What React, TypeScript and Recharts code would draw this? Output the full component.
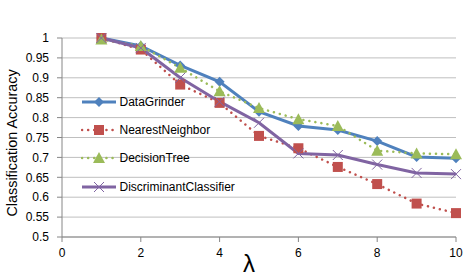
import React from "react";
import { CartesianGrid, Label, Line, LineChart, XAxis, YAxis } from "recharts";

const lambdas = [1, 2, 3, 4, 5, 6, 7, 8, 9, 10];
const dataGrinder = [1.0, 0.98, 0.931, 0.89, 0.815, 0.779, 0.769, 0.741, 0.701, 0.698];
const nearestNeighbor = [1.0, 0.971, 0.883, 0.837, 0.754, 0.723, 0.676, 0.633, 0.584, 0.56];
const decisionTree = [0.996, 0.98, 0.925, 0.866, 0.824, 0.796, 0.779, 0.717, 0.71, 0.708];
const discriminant = [1.0, 0.975, 0.9, 0.84, 0.787, 0.71, 0.706, 0.682, 0.661, 0.658];

const xTicks = [0, 2, 4, 6, 8, 10];
const yTicks = [0.5, 0.55, 0.6, 0.65, 0.7, 0.75, 0.8, 0.85, 0.9, 0.95, 1];

const BLUE = "#4F81BD";
const RED = "#C0504D";
const GREEN = "#9BBB59";
const PURPLE = "#8064A2";
const FONT = "'Liberation Sans', Arial, sans-serif";

const rows = lambdas.map((l, i) => ({
  lambda: l,
  dg: dataGrinder[i],
  nn: nearestNeighbor[i],
  dt: decisionTree[i],
  dc: discriminant[i],
}));

type MarkerKind = "diamond" | "square" | "triangle" | "cross";

function marker(kind: MarkerKind, cx: number, cy: number, color: string, key?: string) {
  if (kind === "diamond") {
    return <path key={key} d={`M${cx},${cy - 5}L${cx + 5},${cy}L${cx},${cy + 5}L${cx - 5},${cy}Z`} fill={color} />;
  }
  if (kind === "square") {
    return <rect key={key} x={cx - 5} y={cy - 5} width={10} height={10} fill={color} />;
  }
  if (kind === "triangle") {
    return <path key={key} d={`M${cx},${cy - 6}L${cx + 6},${cy + 5}L${cx - 6},${cy + 5}Z`} fill={color} />;
  }
  return (
    <path
      key={key}
      d={`M${cx - 5},${cy - 5}L${cx + 5},${cy + 5}M${cx - 5},${cy + 5}L${cx + 5},${cy - 5}`}
      stroke={color}
      strokeWidth={1}
      fill="none"
    />
  );
}

const dotFor = (kind: MarkerKind, color: string) => (props: any) =>
  marker(kind, props.cx, props.cy, color, `${kind}-${props.index}`);

const series = [
  { key: "dg", name: "DataGrinder", color: BLUE, kind: "diamond" as MarkerKind, dash: undefined },
  { key: "nn", name: "NearestNeighbor", color: RED, kind: "square" as MarkerKind, dash: "0.1 6" },
  { key: "dt", name: "DecisionTree", color: GREEN, kind: "triangle" as MarkerKind, dash: "0.1 6" },
  { key: "dc", name: "DiscriminantClassifier", color: PURPLE, kind: "cross" as MarkerKind, dash: undefined },
];

function LegendBox() {
  return (
    <div style={{ position: "absolute", left: 81, top: 87.5, fontFamily: FONT, fontSize: 12, color: "#000" }}>
      {series.map((s) => (
        <div key={s.key} style={{ display: "flex", alignItems: "center", height: 28.4 }}>
          <svg width={37} height={14}>
            <line
              x1={1}
              x2={35}
              y1={7}
              y2={7}
              stroke={s.color}
              strokeWidth={s.dash ? 2.5 : 3}
              strokeDasharray={s.dash}
              strokeLinecap={s.dash ? "round" : "butt"}
            />
            {marker(s.kind, 18, 7, s.color)}
          </svg>
          <span style={{ marginLeft: 1.5 }}>{s.name}</span>
        </div>
      ))}
    </div>
  );
}

const YTitle = () => (
  <text
    x={12}
    y={143}
    transform="rotate(-90 12 143)"
    textAnchor="middle"
    dominantBaseline="central"
    fill="#000"
    fontSize={14.4}
    fontFamily={FONT}
  >
    Classification Accuracy
  </text>
);

const XTitle = () => (
  <text x={249} y={272} textAnchor="middle" fill="#000" fontSize={24} fontFamily={FONT}>
    λ
  </text>
);

export default function App() {
  return (
    <div style={{ position: "absolute", left: 0, top: 0, width: 468, height: 278, background: "#fff" }}>
      <LineChart width={468} height={278} data={rows} margin={{ top: 38, right: 12, left: 0, bottom: 0 }}>
        <CartesianGrid vertical={false} stroke="#BFBFBF" strokeWidth={1} />
        <XAxis
          dataKey="lambda"
          type="number"
          domain={[0, 10]}
          ticks={xTicks}
          height={41}
          stroke="#868686"
          tickSize={5}
          tickMargin={6.5}
          tick={{ fill: "#000", fontSize: 12, fontFamily: FONT }}
        >
          <Label content={<XTitle />} />
        </XAxis>
        <YAxis
          type="number"
          domain={[0.5, 1]}
          ticks={yTicks}
          width={62}
          stroke="#868686"
          tickSize={5}
          tickMargin={8}
          interval={0}
          tickFormatter={(v: number) => String(+v.toFixed(2))}
          tick={{ fill: "#000", fontSize: 12, fontFamily: FONT }}
        >
          <Label content={<YTitle />} />
        </YAxis>
        {series.map((s) => (
          <Line
            key={s.key}
            dataKey={s.key}
            name={s.name}
            stroke={s.color}
            strokeWidth={s.dash ? 2.5 : 3}
            strokeDasharray={s.dash}
            strokeLinecap={s.dash ? "round" : "butt"}
            type="linear"
            dot={dotFor(s.kind, s.color)}
            activeDot={false}
            isAnimationActive={false}
          />
        ))}
      </LineChart>
      <LegendBox />
    </div>
  );
}
